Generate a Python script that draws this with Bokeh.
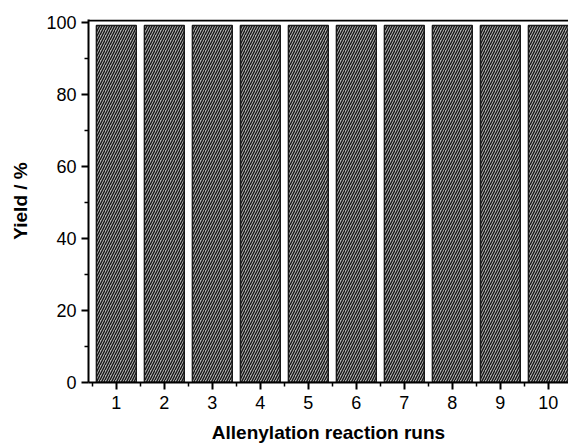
from bokeh.plotting import figure
from bokeh.models import Range1d, FixedTicker, Span
from bokeh.embed import file_html
from bokeh.resources import INLINE

runs = [1, 2, 3, 4, 5, 6, 7, 8, 9, 10]
yields = [99.2, 99.2, 99.2, 99.2, 99.2, 99.2, 99.2, 99.2, 99.2, 99.2]
x_ticks = [1, 2, 3, 4, 5, 6, 7, 8, 9, 10]
x_minor = [0.5, 1.5, 2.5, 3.5, 4.5, 5.5, 6.5, 7.5, 8.5, 9.5, 10.5]
y_ticks = [0, 20, 40, 60, 80, 100]
y_minor = [10, 30, 50, 70, 90]

p = figure(width=568, height=445, output_backend="svg", toolbar_location=None,
           x_range=Range1d(0.42, 10.42), y_range=Range1d(0, 100.9),
           min_border_left=88, min_border_right=0, min_border_top=19, min_border_bottom=63)

p.vbar(x=runs, top=yields, width=0.83, bottom=0,
       fill_color="#b0b0b0", line_color="#1a1a1a", line_width=1.5,
       hatch_pattern="/", hatch_color="#111111", hatch_scale=5, hatch_weight=1.3)

p.grid.visible = False
p.outline_line_color = None
p.background_fill_color = "white"
p.border_fill_color = "white"

p.add_layout(Span(location=100.6, dimension="width", line_color="black", line_width=2))

for ax in (p.xaxis[0], p.yaxis[0]):
    ax.axis_line_color = "black"
    ax.axis_line_width = 2
    ax.major_tick_line_width = 2
    ax.minor_tick_line_width = 1.5
    ax.major_tick_out = 7
    ax.major_tick_in = 0
    ax.minor_tick_out = 4
    ax.minor_tick_in = 0
    ax.major_label_text_font = "Liberation Sans"
    ax.major_label_text_font_size = "18px"
    ax.major_label_text_color = "black"
    ax.axis_label_text_font = "Liberation Sans"
    ax.axis_label_text_font_size = "19px"
    ax.axis_label_text_font_style = "bold"
    ax.axis_label_text_color = "black"

p.xaxis[0].ticker = FixedTicker(ticks=x_ticks, minor_ticks=x_minor)
p.yaxis[0].ticker = FixedTicker(ticks=y_ticks, minor_ticks=y_minor)
p.xaxis[0].axis_label = "Allenylation reaction runs"
p.yaxis[0].axis_label = "Yield / %"
p.xaxis[0].major_label_standoff = 6
p.yaxis[0].major_label_standoff = 5
p.xaxis[0].axis_label_standoff = 10
p.yaxis[0].axis_label_standoff = 12

open("out.html", "w").write(file_html(p, INLINE))
